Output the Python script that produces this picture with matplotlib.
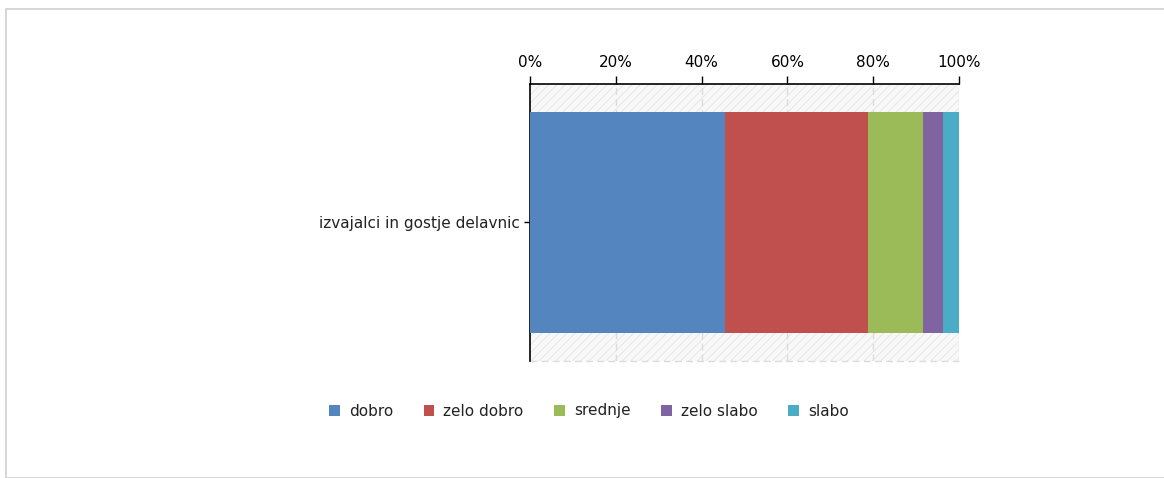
import matplotlib
matplotlib.use("Agg")
import matplotlib.pyplot as plt
from matplotlib.patches import Rectangle

categories = ["izvajalci in gostje delavnic"]
series = ["dobro", "zelo dobro", "srednje", "zelo slabo", "slabo"]
values = [45.4, 33.4, 12.7, 4.8, 3.7]
colors = ["#5585BE", "#C0504D", "#9BBB59", "#8064A2", "#4BACC6"]
ticks = [0, 20, 40, 60, 80, 100]

plt.rcParams["hatch.linewidth"] = 0.6
fig = plt.figure(figsize=(11.64, 4.78), dpi=100)

# outer frame of the screenshot
fig.patches.append(Rectangle((6 / 1164, 0), 1.1, 1 - 9 / 478, transform=fig.transFigure,
                             fill=False, edgecolor="#d0d0d0", lw=1.2))

ax = fig.add_axes([530 / 1164, 117 / 478, 429 / 1164, 277 / 478])

# hatched background
ax.add_patch(Rectangle((0, 0), 1, 1, transform=ax.transAxes, facecolor="#f8f8f8",
                       edgecolor="#e4e4e4", hatch="////", lw=0, zorder=0))

left = 0
for name, v, c in zip(series, values, colors):
    ax.barh(categories, v, left=left, height=0.8, color=c, label=name, zorder=3)
    left += v

ax.set_xlim(0, 100)
ax.set_ylim(-0.5, 0.5)
ax.xaxis.tick_top()
ax.set_xticks(ticks)
ax.set_xticklabels([f"{t}%" for t in ticks], fontsize=11, color="#222222")
ax.tick_params(axis="x", length=6, width=1, pad=4, colors="black")
ax.tick_params(axis="y", length=4, width=1, labelsize=11, pad=3, labelcolor="#222222")
for t in ticks[1:]:
    ax.axvline(t, color="#dcdcdc", lw=1, ls=(0, (5, 3)), zorder=1)

ax.spines["top"].set_linewidth(1.2)
ax.spines["left"].set_linewidth(1.2)
for s in ["bottom", "right"]:
    ax.spines[s].set_visible(False)
ax.axhline(-0.5, color="#dcdcdc", lw=1, ls=(0, (5, 3)), zorder=1, clip_on=False)

fig.legend(loc="center", bbox_to_anchor=(589 / 1164, 1 - 411 / 478), ncol=5,
           frameon=False, fontsize=11, handlelength=0.7, handleheight=0.7,
           handletextpad=0.6, columnspacing=2.0, labelcolor="#222222")

fig.savefig("out.png", dpi=100)
